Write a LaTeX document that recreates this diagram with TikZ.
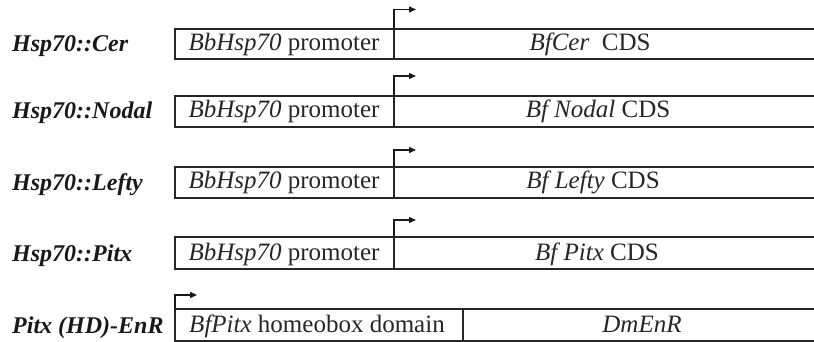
\documentclass[tikz,border=0pt]{standalone}
\usepackage{fontspec}
\setmainfont{Liberation Serif}
\usetikzlibrary{arrows.meta}
\begin{document}
\begin{tikzpicture}[x=1pt,y=-1pt,
  box/.style={line width=1.5pt, draw=black!85},
  lbl/.style={anchor=base west, font=\fontsize{24}{28}\selectfont\bfseries\itshape, inner sep=0pt, text=black!90},
  seg/.style={anchor=base, font=\fontsize{25}{29}\selectfont, inner sep=0pt, text=black!85},
  prom/.style={line width=1.4pt, draw=black!90, -{Triangle[length=7pt,width=6pt]}}]
\useasboundingbox (0,0) rectangle (814,342);
% Row 1
\draw[box] (816,29) -- (175,29) -- (175,59) -- (816,59);
\draw[box] (394,29) -- (394,59);
\node[lbl] (l1) at (12,52) {Hsp70::Cer};
\node[seg] (p1) at (284,51) {\textit{BbHsp70} promoter};
\node[seg] (c1) at (590,51) {\textit{BfCer}\ \ CDS};
\coordinate (s1) at (394,29); \coordinate (e1) at (416,9.5);
\draw[prom] (s1) |- (e1);
% Row 2
\draw[box] (816,96) -- (175,96) -- (175,127) -- (816,127);
\draw[box] (394,96) -- (394,127);
\node[lbl] (l2) at (12,119) {Hsp70::Nodal};
\node[seg] (p2) at (284,118) {\textit{BbHsp70} promoter};
\node[seg] (c2) at (598,118) {\textit{Bf Nodal} CDS};
\coordinate (s2) at (394,96); \coordinate (e2) at (416,76);
\draw[prom] (s2) |- (e2);
% Row 3
\draw[box] (816,167) -- (175,167) -- (175,198) -- (816,198);
\draw[box] (394,167) -- (394,198);
\node[lbl] (l3) at (12,190) {Hsp70::Lefty};
\node[seg] (p3) at (284,189) {\textit{BbHsp70} promoter};
\node[seg] (c3) at (593,189) {\textit{Bf Lefty} CDS};
\coordinate (s3) at (394,167); \coordinate (e3) at (416,150);
\draw[prom] (s3) |- (e3);
% Row 4
\draw[box] (816,237) -- (175,237) -- (175,269) -- (816,269);
\draw[box] (394,237) -- (394,269);
\node[lbl] (l4) at (12,261) {Hsp70::Pitx};
\node[seg] (p4) at (284,260) {\textit{BbHsp70} promoter};
\node[seg] (c4) at (597,260) {\textit{Bf Pitx} CDS};
\coordinate (s4) at (394,237); \coordinate (e4) at (416,220);
\draw[prom] (s4) |- (e4);
% Row 5
\draw[box] (816,309) -- (175,309) -- (175,341) -- (816,341);
\draw[box] (463,309) -- (463,341);
\node[lbl] (l5) at (12,333) {Pitx (HD)-EnR};
\node[seg] (p5) at (317,332) {\textit{BfPitx} homeobox domain};
\node[seg] (c5) at (642,332) {\textit{DmEnR}};
\coordinate (s5) at (175,309); \coordinate (e5) at (197,295);
\draw[prom] (s5) |- (e5);
\end{tikzpicture}
\end{document}
